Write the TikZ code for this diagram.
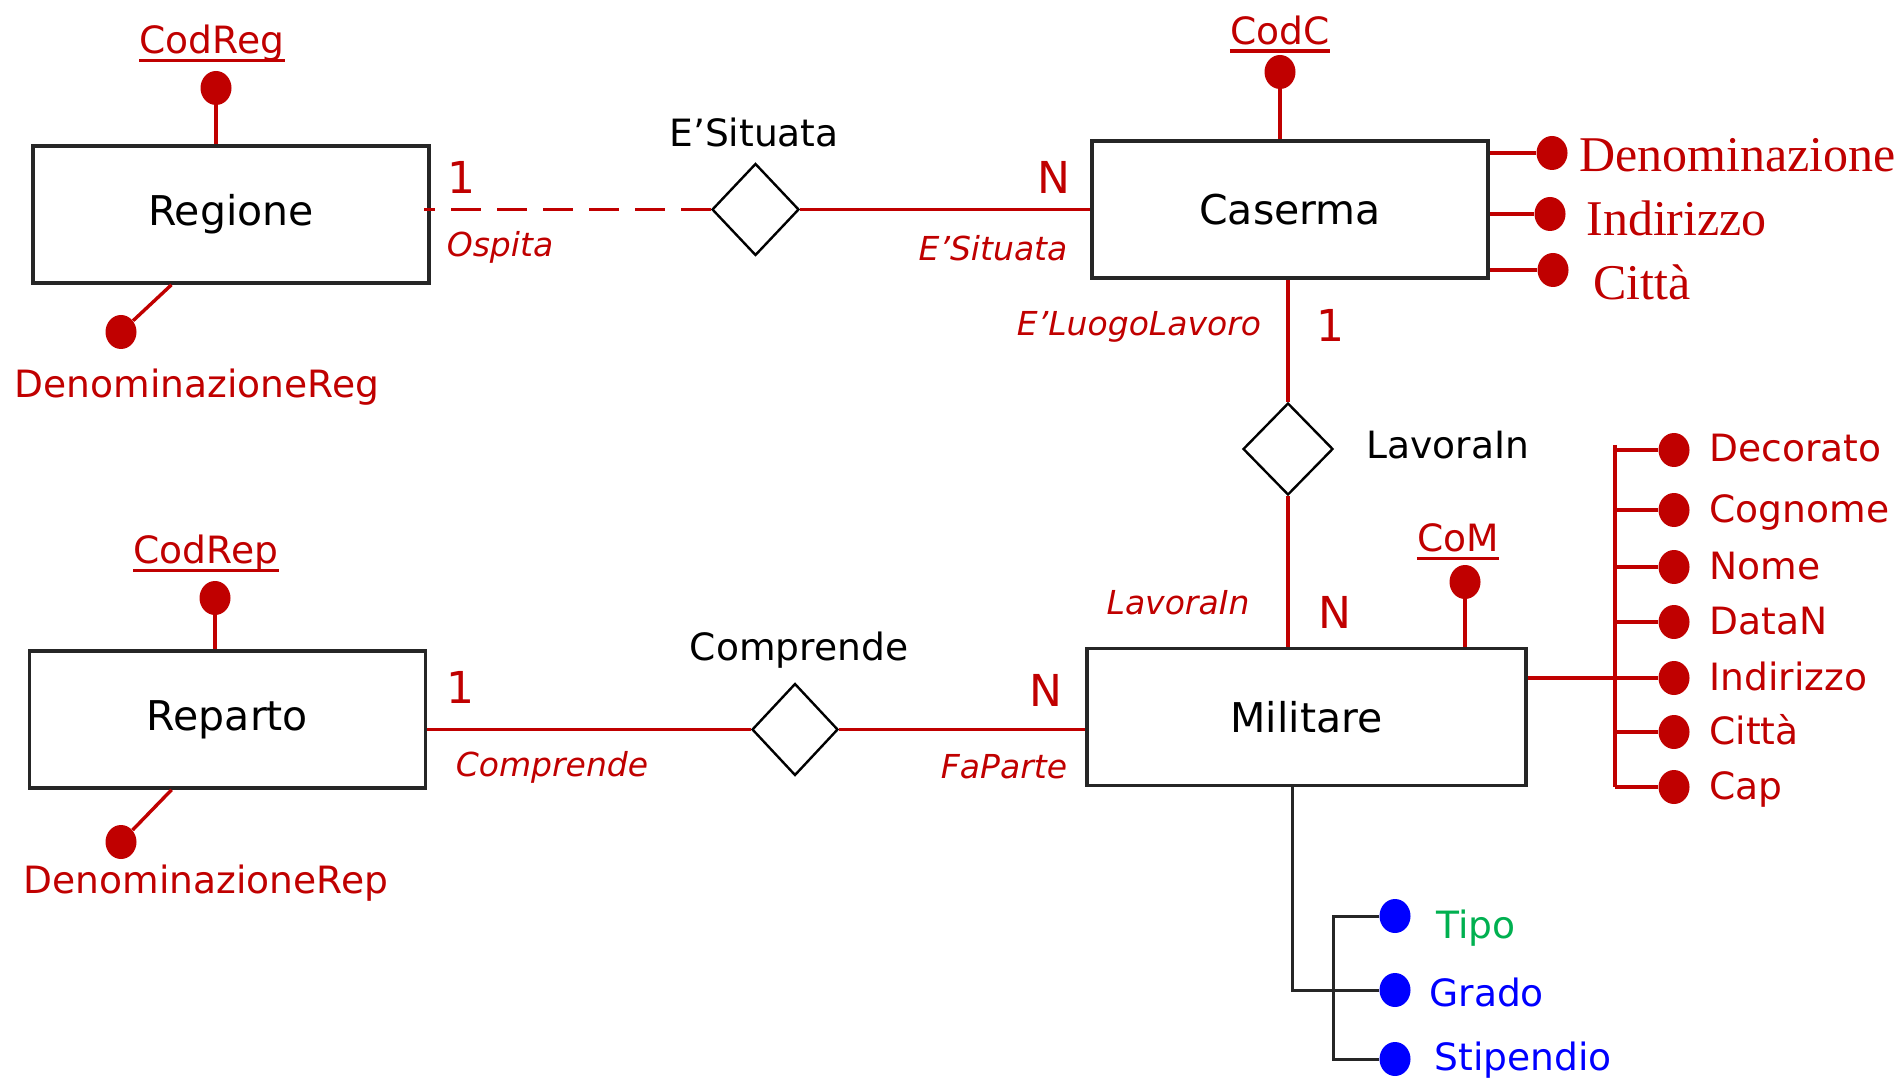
\documentclass[tikz,border=0pt]{standalone}
\usepackage{fontspec}
\setmainfont{DejaVu Sans}
\newfontfamily\timesattr{Liberation Serif}
\usepackage{tikz}
\usetikzlibrary{shapes.geometric,calc}

\definecolor{erred}{HTML}{C00000}
\definecolor{erblue}{HTML}{0000FF}
\definecolor{ergreen}{HTML}{00B050}

\begin{document}
\begin{tikzpicture}[x=0.5pt, y=-0.5pt]
    \tikzstyle{entity} = [rectangle, draw=black!85, line width=1.8pt, minimum width=198pt, minimum height=68.5pt, inner sep=0pt, font=\fontsize{20.5}{24}\selectfont]
    \tikzstyle{relation} = [diamond, draw, line width=1.2pt, minimum width=43.5pt, minimum height=46pt, inner sep=0pt]
    \tikzstyle{attrdot} = [ellipse, fill=erred, inner sep=0pt, minimum width=15.5pt, minimum height=17pt]
    \tikzstyle{attrname} = [text=erred, inner sep=0pt, font=\fontsize{18.8}{22}\selectfont]
    \tikzstyle{relname} = [inner sep=0pt, font=\fontsize{18.8}{22}\selectfont]
    \tikzstyle{rolename} = [text=erred, inner sep=0pt, font=\fontsize{16.5}{20}\selectfont\itshape]
    \tikzstyle{card} = [text=erred, inner sep=0pt, font=\fontsize{22}{26}\selectfont]
    \tikzstyle{redline} = [erred, line width=1.7pt]
    \tikzstyle{blackline} = [black!85, line width=1.5pt]

    \useasboundingbox (0,0) rectangle (1904,1079);

    % Entities
    \node[entity] (Regione) at (231,214.5) {Regione};
    \node[entity] (Caserma) at (1290,209.5) {Caserma};
    \node[entity] (Reparto) at (227.5,719.5) {Reparto};
    \node[entity, minimum width=219.5pt] (Militare) at (1306.5,717) {Militare};

    % Relationships
    \node[relation] (Situata) at (755.5,209.5) {};
    \node[relation, minimum width=43pt] (Comprende) at (795,729.5) {};
    \node[relation, minimum width=45pt] (LavoraIn) at (1288,449) {};
    \node[relname] (lblSituata) at (754,132) {E’Situata};
    \node[relname] (lblComprende) at (799,650) {Comprende};
    \node[relname, anchor=west] (lblLavoraIn) at (1366,445) {LavoraIn};

    \draw[redline, dash pattern=on 15pt off 8pt] (Situata.west) -- ([xshift=-3.5pt]Regione.east |- Situata);
    \draw[redline] (Situata.east) -- (Situata -| Caserma.west);
    \draw[redline] (LavoraIn |- Caserma.south) -- (LavoraIn.north);
    \draw[redline] (LavoraIn.south) -- (LavoraIn |- Militare.north);
    \draw[redline] (Comprende -| Reparto.east) -- (Comprende.west);
    \draw[redline] (Comprende.east) -- (Comprende -| Militare.west);

    % Cardinalities and roles
    \node[card] (c1) at (461,177) {1};
    \node[card] (c2) at (1054,177) {N};
    \node[card] (c3) at (1330,325) {1};
    \node[card] (c4) at (1335,612) {N};
    \node[card] (c5) at (460,687) {1};
    \node[card] (c6) at (1046,690) {N};
    \node[rolename] (r1) at (500,247) {Ospita};
    \node[rolename] (r2) at (993,248) {E’Situata};
    \node[rolename] (r3) at (1139,327) {E’LuogoLavoro};
    \node[rolename] (r4) at (1178,603) {LavoraIn};
    \node[rolename] (r5) at (552,767) {Comprende};
    \node[rolename] (r6) at (1004,767) {FaParte};

    % Key attributes
    \foreach \key/\dx/\dy/\tx/\ty/\ent in {CodReg/216/88/212/43/Regione, CodC/1280/72/1280/30/Caserma, CodRep/215/598/206/553/Reparto, CoM/1465/582/1458/538/Militare} {
        \node[attrdot] (d\key) at (\dx,\dy) {};
        \node[attrname] (k\key) at (\tx,\ty) {\key};
        \draw[redline] ([yshift=-3.5pt]k\key.base west) -- ([yshift=-3.5pt]k\key.base east);
        \draw[redline] (d\key |- \ent.north) -- (d\key);
    }

    % Names of Regione and Reparto
    \node[attrdot] (dDenReg) at (121,332) {};
    \node[attrname] (tDenReg) at (197,387) {DenominazioneReg};
    \draw[redline] ($(Regione.south west)!0.351!(Regione.south east)$) -- (dDenReg);
    \node[attrdot] (dDenRep) at (121,842) {};
    \node[attrname] (tDenRep) at (206,883) {DenominazioneRep};
    \draw[redline] ($(Reparto.south west)!0.36!(Reparto.south east)$) -- (dDenRep);

    % Caserma attributes
    \foreach \name/\dx/\dy/\tx/\ty [count=\i] in {Denominazione/1552/153/1579/155, Indirizzo/1550/214/1586/218, Città/1553/270/1593/282} {
        \node[attrdot] (cdot\i) at (\dx,\dy) {};
        \node[text=erred, inner sep=0pt, anchor=west, font=\timesattr\fontsize{25}{30}\selectfont] (ctxt\i) at (\tx,\ty) {\name};
        \draw[redline] (cdot\i -| Caserma.east) -- (cdot\i);
    }

    % Militare attributes
    \coordinate (mbr) at (1615,0);
    \foreach \name/\y [count=\i] in {Decorato/450, Cognome/510, Nome/567, DataN/622, Indirizzo/678, Città/732, Cap/787} {
        \node[attrdot] (mdot\i) at (1674,\y) {};
        \node[attrname, anchor=base west] (mtxt\i) at (1709,\y+12) {\name};
        \draw[redline] (mdot\i -| mbr) -- (mdot\i);
    }
    \draw[redline] ([yshift=2.5pt]mdot1 -| mbr) -- (mdot7 -| mbr);
    \draw[redline] (mdot5 -| Militare.east) -- (mdot5);

    % Sub-attributes of Militare
    \coordinate (mdown) at (1292,0);
    \coordinate (kbr) at (1333,0);
    \node[attrdot, fill=erblue] (tdot) at (1395,916) {};
    \node[attrdot, fill=erblue] (gdot) at (1395,990) {};
    \node[attrdot, fill=erblue] (sdot) at (1395,1059) {};
    \node[attrname, text=ergreen, anchor=west] (ttxt) at (1436,928) {Tipo};
    \node[attrname, text=erblue, anchor=west] (gtxt) at (1429,992) {Grado};
    \node[attrname, text=erblue, anchor=west] (stxt) at (1434,1060) {Stipendio};
    \draw[blackline] (Militare.south -| mdown) -- (gdot -| mdown) -- (gdot);
    \draw[blackline] (tdot) -- (tdot -| kbr) -- (sdot -| kbr) -- (sdot);
\end{tikzpicture}
\end{document}
